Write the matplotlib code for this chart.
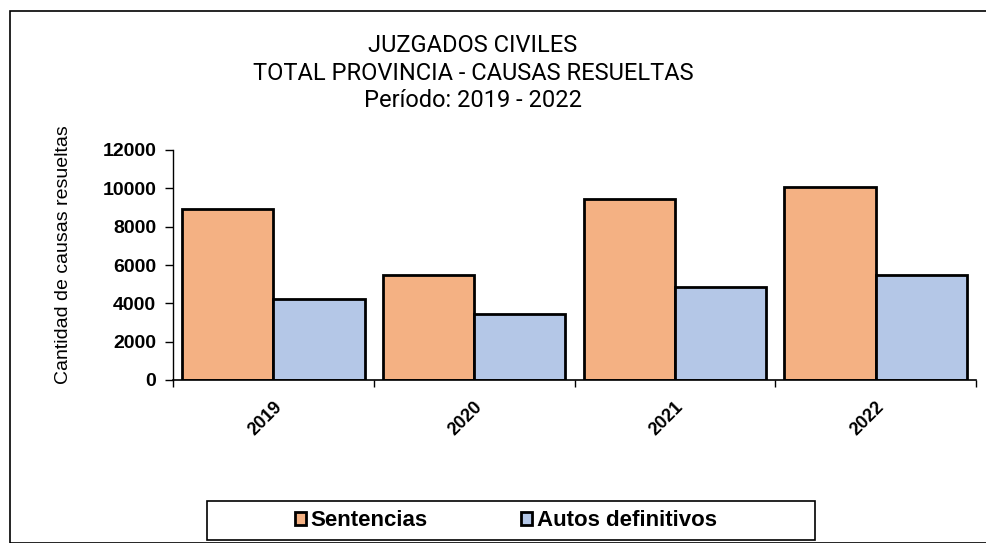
import matplotlib
import matplotlib.pyplot as plt
import numpy as np
from matplotlib.patches import Rectangle

matplotlib.use('Agg')

years = ['2019', '2020', '2021', '2022']
sentencias = [8930, 5480, 9450, 10080]
autos = [4220, 3450, 4850, 5480]
y_ticks = [0, 2000, 4000, 6000, 8000, 10000, 12000]

W, H = 986, 543
fig = plt.figure(figsize=(W / 100, H / 100), dpi=100)
ax = fig.add_axes([173 / W, 1 - 380 / H, (976 - 173) / W, (380 - 150) / H])

x = np.arange(len(years))
bw = 0.455
ax.bar(x - bw / 2, sentencias, bw, color='#F4B183', edgecolor='black', linewidth=2, label='Sentencias')
ax.bar(x + bw / 2, autos, bw, color='#B4C7E7', edgecolor='black', linewidth=2, label='Autos definitivos')

ax.set_xlim(-0.5, len(years) - 0.5)
ax.set_ylim(0, 12000)
ax.set_yticks(y_ticks)
ax.set_yticklabels([str(v) for v in y_ticks], fontsize=14, fontweight='bold', family='Liberation Sans')
ax.tick_params(axis='y', direction='out', length=6, width=1, pad=6)

# year labels at centres, ticks on the boundaries
ax.set_xticks(x)
ax.set_xticklabels(years, rotation=45, ha='right', rotation_mode='anchor',
                   fontsize=13, fontweight='bold', family='Liberation Sans')
ax.tick_params(axis='x', which='major', length=0, pad=13)
ax.set_xticks(np.arange(len(years) + 1) - 0.5, minor=True)
ax.tick_params(axis='x', which='minor', direction='out', length=5, width=1)

for s in ['top', 'right']:
    ax.spines[s].set_visible(False)
ax.spines['left'].set_linewidth(1)
ax.spines['bottom'].set_linewidth(1.2)

ax.set_ylabel('Cantidad de causas resueltas', fontsize=14, family='Liberation Sans')
ax.yaxis.set_label_coords(72 / W, 1 - 255 / H, transform=fig.transFigure)

fig.text(473 / W, 1 - 73 / H,
         'JUZGADOS CIVILES\nTOTAL PROVINCIA - CAUSAS RESUELTAS\nPeríodo: 2019 - 2022',
         ha='center', va='center', fontsize=17, linespacing=1.26,
         family=['Roboto', 'DejaVu Sans'])

# outer chart frame
fig.patches.append(Rectangle((10 / W, 0), 1, 1 - 11 / H, transform=fig.transFigure,
                             fill=False, edgecolor='black', linewidth=1.2))

# legend box
fig.patches.append(Rectangle((207 / W, 1 - 540 / H), (815 - 207) / W, (540 - 501) / H,
                             transform=fig.transFigure, fill=False, edgecolor='black', linewidth=1.2))
fig.legend(loc='center', bbox_to_anchor=(506 / W, 1 - 521 / H), ncol=2, frameon=False,
           handlelength=0.5, handleheight=0.5, handletextpad=0.2, columnspacing=4.2,
           prop={'family': 'Liberation Sans', 'weight': 'bold', 'size': 16})

fig.savefig('out.png', dpi=100)
